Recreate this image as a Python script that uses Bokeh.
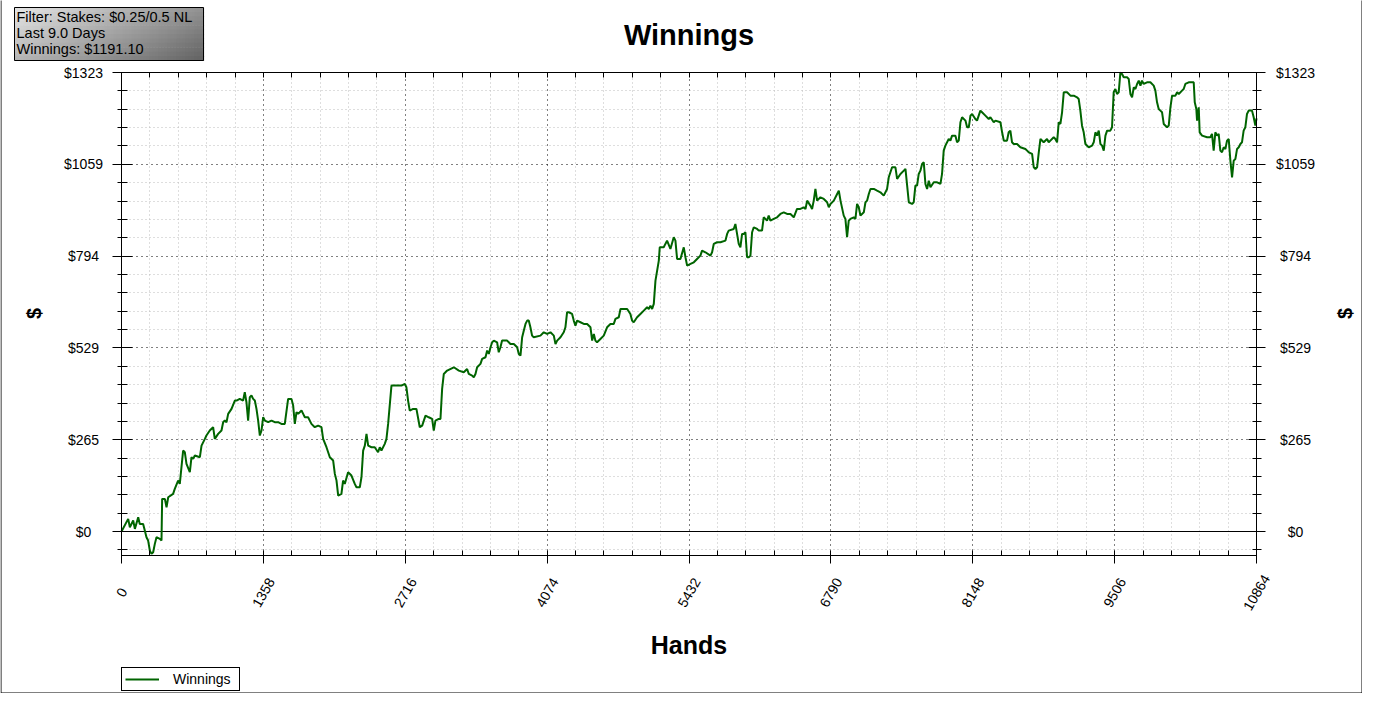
import math
from bokeh.plotting import figure
from bokeh.models import (Range1d, LinearAxis, FixedTicker, Grid, Label,
                          BoxAnnotation, Legend, LegendItem)
from bokeh.embed import file_html
from bokeh.resources import INLINE

# ---------------- data ----------------
hands = [
    0, 64, 80, 112, 128, 160, 175, 207, 223, 239, 255, 271, 287, 303, 319, 335, 367, 383,
    389, 415, 431, 447, 494, 510, 542, 558, 574, 590, 606, 622, 654, 670, 686, 702, 750,
    766, 798, 813, 845, 877, 893, 925, 957, 973, 989, 1005, 1021, 1053, 1085, 1101, 1132,
    1164, 1180, 1196, 1212, 1228, 1244, 1260, 1276, 1292, 1308, 1324, 1340, 1356, 1372,
    1404, 1436, 1467, 1499, 1531, 1563, 1595, 1627, 1643, 1659, 1675, 1691, 1723, 1739,
    1755, 1786, 1818, 1850, 1882, 1914, 1930, 1962, 1994, 2026, 2042, 2058, 2074, 2105,
    2121, 2137, 2169, 2201, 2233, 2249, 2281, 2297, 2313, 2329, 2345, 2361, 2393, 2424,
    2456, 2472, 2488, 2520, 2536, 2552, 2584, 2632, 2680, 2712, 2727, 2743, 2759, 2791,
    2823, 2855,
    2878, 2910, 2941, 2973, 2989, 3005, 3037, 3053, 3069, 3085, 3117, 3181, 3229, 3276,
    3308, 3324, 3356, 3372, 3388, 3404, 3436, 3452, 3484, 3500, 3516, 3532, 3548, 3564,
    3595, 3611, 3627, 3643, 3691, 3723, 3755, 3787, 3803, 3819, 3835, 3851, 3867, 3883,
    3898, 3914, 3930, 3946, 4010, 4042, 4074, 4106, 4138, 4154, 4170, 4202, 4233, 4249,
    4265, 4281, 4313, 4329, 4345, 4361, 4393, 4425, 4457, 4489, 4505, 4521, 4536, 4552,
    4584, 4616, 4648, 4680, 4712, 4728, 4760, 4776, 4808, 4840, 4871, 4887, 4903, 4935,
    4967, 4999, 5031, 5047, 5063, 5079, 5095, 5111, 5127, 5143, 5152, 5190, 5206, 5222,
    5254, 5286, 5302, 5318, 5350, 5382, 5398, 5414, 5446, 5478, 5509, 5541, 5557, 5589,
    5637, 5653, 5669, 5701, 5733, 5781, 5797, 5812, 5860, 5876, 5892, 5908, 5924, 5940,
    5956, 5972, 5988, 6004, 6020, 6036, 6052, 6084, 6100, 6131, 6147, 6179, 6195, 6211,
    6243, 6275, 6307, 6339, 6371, 6403, 6435, 6466, 6498,
    6531, 6547, 6563, 6594, 6610, 6626, 6642, 6658, 6690, 6722, 6754, 6770, 6786, 6818,
    6850, 6866, 6882, 6913, 6929, 6945, 6961, 6977, 7009, 7025, 7041, 7057, 7073, 7105,
    7121, 7137, 7153, 7169, 7201, 7232, 7264, 7296, 7328, 7344, 7376, 7408, 7424, 7456,
    7488, 7504, 7520, 7536, 7567, 7583, 7599, 7615, 7631, 7647, 7663, 7679, 7695, 7711,
    7727, 7743, 7775, 7807, 7839, 7854, 7870, 7886, 7918, 7934, 7950, 7982, 7998, 8014,
    8030, 8046, 8078, 8094, 8110, 8126, 8142, 8173, 8189, 8221, 8237, 8269, 8301, 8317,
    8349, 8365, 8413, 8429, 8445, 8476, 8492, 8508, 8524, 8540, 8572, 8604, 8652, 8668,
    8684, 8716, 8732, 8748, 8764, 8780, 8796, 8827, 8859, 8875, 8891, 8923, 8939, 8955,
    8971, 8987, 9003, 9019, 9051, 9083, 9115, 9146, 9162, 9178, 9194, 9210, 9226, 9258,
    9290, 9306, 9322, 9338, 9354, 9370, 9386, 9402, 9418, 9434, 9465, 9481, 9497, 9513,
    9529, 9545, 9561, 9577, 9593, 9625, 9641, 9657, 9673, 9689, 9705, 9721, 9737, 9753,
    9768, 9784, 9816, 9848, 9880, 9896, 9912, 9928, 9944, 9960, 9976, 10008, 10024, 10040,
    10056, 10088, 10104, 10120, 10151, 10167, 10183, 10215, 10263, 10273, 10288, 10295,
    10311, 10320, 10343, 10391, 10422, 10438, 10454, 10470, 10486, 10502, 10518, 10534,
    10550, 10566, 10582, 10598, 10614, 10630, 10646, 10662, 10678, 10694, 10710, 10725,
    10741, 10757, 10773, 10789, 10821, 10837, 10853, 10864,
]

winnings = [
    0.0, 36.6, 12.5, 31.8, 7.7, 41.4, 22.1, 22.1, 2.9, -16.3, -25.9, -54.7, -64.3, -59.5,
    -35.5, -16.3, -21.1, -25.9,
    94.2, 94.2, 70.2, 99.0, 108.6, 123.0, 147.1, 137.4, 185.5, 233.5, 228.7, 195.1, 171.1,
    214.3, 209.5, 219.1, 214.3,
    247.9, 267.2, 276.8, 291.2, 300.8, 267.2, 281.6, 291.2, 315.2, 320.0, 315.2, 339.2,
    353.6, 377.7, 377.7, 382.5,
    377.7, 401.7, 372.9, 320.0, 387.3, 392.1, 382.5, 377.7, 353.6, 320.0, 276.8, 291.2,
    329.6, 320.0,
    315.2, 320.0, 315.2, 315.2, 310.4, 310.4, 382.5, 382.5, 363.2, 310.4, 344.0, 339.2,
    348.8, 339.2,
    329.6, 329.6, 310.4, 300.8, 305.6, 300.8, 267.2, 243.1, 214.3, 204.7, 166.3, 147.1,
    103.8, 108.6,
    147.1, 137.4, 171.1, 161.5, 137.4, 127.8, 127.8, 156.7, 233.5, 247.9, 281.6, 247.9,
    243.1, 243.1,
    228.7, 243.1, 233.5, 252.8, 267.2, 310.4, 420.9, 420.9, 420.9, 425.7, 416.1, 377.7,
    348.8, 353.6,
    353.6, 300.8,
    305.5, 334.3, 329.5, 324.7, 291.1, 319.9, 324.7, 324.7, 411.2, 454.4, 464.1, 473.6,
    464.1, 459.2,
    468.8, 454.4, 449.6, 444.8, 454.4, 473.6, 483.3, 497.7, 502.5, 521.7, 512.1, 531.3,
    545.7, 550.5,
    545.7, 516.9, 531.3, 550.5, 550.5, 540.9, 540.9, 531.3, 512.1, 507.3, 560.1, 579.3,
    598.6, 608.2,
    608.2, 588.9, 564.9, 560.1, 564.9, 574.5, 569.7, 574.5, 564.9, 540.9, 550.5, 560.1,
    574.5, 588.9,
    632.2, 632.2, 627.4, 608.2, 593.7, 608.2, 603.4, 598.6, 598.6, 588.9, 550.5, 569.7,
    550.5, 545.7,
    555.3, 564.9, 588.9, 598.6, 598.6, 613.0, 617.8, 641.8, 641.8, 641.8, 627.4, 608.2,
    603.4, 617.8,
    627.4, 637.0, 646.6, 641.8, 651.4, 641.8, 656.2, 723.5, 752.3, 781.1, 819.5, 819.5,
    829.2, 838.8,
    814.7, 848.4, 838.8, 785.9, 785.9, 819.5, 790.7, 766.7, 771.5, 776.3, 785.9, 795.5,
    809.9, 805.1,
    795.5, 805.1, 829.2, 834.0, 834.0, 838.8, 858.0, 867.6, 872.4, 886.8, 858.0, 829.2,
    819.5, 858.0,
    858.0, 862.8, 790.7, 790.7, 795.5, 862.8, 877.2, 872.4, 867.6, 867.6, 906.0, 896.4,
    910.8, 896.4,
    901.2, 906.0, 915.6, 920.4, 915.6, 915.6, 906.0, 930.0, 930.0,
    934.8, 930.0, 954.1, 939.7, 930.0, 954.1, 987.7, 954.1, 963.7, 958.9, 949.3, 934.8,
    944.5, 954.1,
    973.3, 982.9, 954.1, 910.8, 901.2, 848.4, 896.4, 901.2, 906.0, 901.2, 944.5, 934.8,
    910.8, 920.4,
    949.3, 954.1, 973.3, 987.7, 987.7, 982.9, 978.1, 968.5, 987.7, 1021.3, 1050.1, 1050.1,
    1016.5, 1030.9,
    1040.5, 1045.3, 997.3, 949.3, 944.5, 949.3, 997.3, 997.3, 1030.9, 1040.5, 1059.7,
    1064.6, 1002.1, 987.7,
    1011.7, 992.5, 1006.9, 1006.9, 1002.1, 1030.9, 1098.2, 1112.6, 1131.8, 1127.0, 1141.4,
    1141.4, 1122.2, 1127.0,
    1179.9, 1194.3, 1184.7, 1165.4, 1165.4, 1199.1, 1203.9, 1189.5, 1184.7, 1213.5, 1208.7,
    1199.1, 1189.5, 1194.3,
    1179.9, 1184.7, 1179.9, 1151.0, 1127.0, 1127.0, 1151.0, 1155.8, 1122.2, 1117.4, 1117.4,
    1107.8, 1103.0, 1098.2,
    1093.4, 1088.6, 1050.1, 1045.3, 1050.1, 1093.4, 1131.8, 1122.2, 1131.8, 1122.2, 1127.0,
    1136.6, 1131.8, 1122.2,
    1179.9, 1175.1, 1208.7, 1266.3, 1266.3, 1256.7, 1256.7, 1251.9, 1247.1, 1213.5, 1170.2,
    1151.0, 1117.4, 1107.8,
    1112.6, 1122.2, 1151.0, 1141.4, 1155.8, 1117.4, 1112.6, 1098.2, 1141.4, 1155.8, 1155.8,
    1165.4, 1266.3, 1275.9,
    1261.5, 1266.3, 1323.0, 1319.2, 1309.6, 1309.6, 1304.8, 1261.5, 1251.9, 1280.7, 1275.9,
    1290.4, 1300.0, 1285.5,
    1300.0, 1290.4, 1295.2, 1295.2, 1285.5, 1271.1, 1237.5, 1218.3, 1213.5, 1208.7, 1175.1,
    1165.4, 1170.2, 1223.1,
    1256.7, 1256.7, 1266.3, 1261.5, 1271.1, 1275.9, 1290.4, 1295.2, 1295.2, 1237.5, 1218.3,
    1184.7,
    1223.1, 1151.0, 1141.4, 1136.6, 1136.6, 1146.2, 1098.2, 1151.0, 1141.4, 1146.2, 1098.2,
    1093.4,
    1107.8, 1103.0, 1127.0, 1131.8, 1069.4, 1021.3, 1069.4, 1074.2, 1103.0, 1107.8, 1117.4,
    1122.2,
    1155.8, 1165.4, 1203.9, 1213.5, 1213.5, 1194.3, 1170.2, 1191.1,
]

series_name = "Winnings"
title_text = "Winnings"
x_axis_title = "Hands"
y_axis_title = "$"
info_lines = ["Filter: Stakes: $0.25/0.5 NL", "Last 9.0 Days", "Winnings: $1191.10"]

x_ticks = [0, 1358, 2716, 4074, 5432, 6790, 8148, 9506, 10864]
x_tick_labels = ["0", "1358", "2716", "4074", "5432", "6790", "8148", "9506", "10864"]
y_ticks = [0, 264.68, 529.36, 794.04, 1058.72, 1323.4]
y_tick_labels = ["$0", "$265", "$529", "$794", "$1059", "$1323"]

X_MIN, X_MAX = 0, 10864
Y_MIN, Y_MAX = -69, 1323.4

# ---------------- layout (canvas pixels) ----------------
W, H = 1362, 693
PL, PR, PT, PB = 121, 1256, 72, 555      # plot area inside the canvas
FONT = "Liberation Sans"
GREEN = "#006400"
N_SUB = 5


def sy(py):
    """canvas y (from top) -> screen y (from bottom)"""
    return H - py


hx = (X_MAX - X_MIN) / (PR - PL)
hy = (Y_MAX - Y_MIN) / (PB - PT)
x_range = Range1d(X_MIN - PL * hx, X_MAX + (W - PR) * hx)
y_range = Range1d(Y_MIN - (H - PB) * hy, Y_MAX + PT * hy)

x_minor = [x_ticks[i] + (x_ticks[i + 1] - x_ticks[i]) * k / N_SUB
           for i in range(len(x_ticks) - 1) for k in range(1, N_SUB)]
y_step = y_ticks[1] - y_ticks[0]
y_minor = [y_ticks[i] + (y_ticks[i + 1] - y_ticks[i]) * k / N_SUB
           for i in range(len(y_ticks) - 1) for k in range(1, N_SUB)]
y_minor = [-y_step / N_SUB] + y_minor

p = figure(width=W, height=H, x_range=x_range, y_range=y_range,
           x_axis_type=None, y_axis_type=None,
           output_backend="svg", toolbar_location=None,
           min_border=0, min_border_left=0, min_border_right=0,
           min_border_top=0, min_border_bottom=0,
           background_fill_color="white", border_fill_color="white",
           outline_line_color=None)
p.title.visible = False

xt_fixed = FixedTicker(ticks=x_ticks, minor_ticks=x_minor)
yt_fixed = FixedTicker(ticks=y_ticks, minor_ticks=y_minor)


def screen_box(left, right, top, bottom, **kw):
    """box given in canvas pixels (top-left origin)"""
    return BoxAnnotation(left=left, right=right, top=sy(top), bottom=sy(bottom),
                         left_units="screen", right_units="screen",
                         top_units="screen", bottom_units="screen", **kw)


# ---------------- grids (limited to the plot area) ----------------
has_cross = "cross_bounds" in Grid.properties()


def make_grid(dim, ticker, color, dash, minor_color=None, minor_dash=None):
    g = Grid(dimension=dim, ticker=ticker, grid_line_color=color, grid_line_dash=dash,
             grid_line_width=1, level="underlay")
    if minor_color is not None:
        g.minor_grid_line_color = minor_color
        g.minor_grid_line_dash = minor_dash
        g.minor_grid_line_width = 1
    if has_cross:
        g.cross_bounds = (Y_MIN, Y_MAX) if dim == 0 else (X_MIN, X_MAX)
    g.bounds = (X_MIN, X_MAX) if dim == 0 else (Y_MIN, Y_MAX)
    p.add_layout(g, "center")
    return g


make_grid(0, xt_fixed, "black", "1 4", "#bdbdbd", "1 3")
make_grid(1, yt_fixed, "black", "1 4", "#bdbdbd", "1 3")
make_grid(1, FixedTicker(ticks=[0]), "black", "solid")   # zero line

if not has_cross:
    for l, r_, t, b in ((0, PL, 0, H), (PR, W, 0, H), (PL, PR, 0, PT), (PL, PR, PB, H)):
        p.add_layout(screen_box(l, r_, t, b, fill_color="white", fill_alpha=1,
                                line_color=None, level="underlay"))

# ---------------- axes (library axes, fixed on the plot-area edges) ----------------


def make_axis(side, loc, ticker, bounds, tin, tout, mtin, mtout):
    ax = LinearAxis(ticker=ticker, fixed_location=loc, bounds=bounds)
    ax.axis_line_color = "black"
    ax.axis_line_width = 1
    ax.major_tick_line_color = "black"
    ax.minor_tick_line_color = "black"
    ax.major_tick_in = tin
    ax.major_tick_out = tout
    ax.minor_tick_in = mtin
    ax.minor_tick_out = mtout
    ax.major_label_text_color = None
    p.add_layout(ax, side)
    return ax


make_axis("below", Y_MIN, xt_fixed, (X_MIN, X_MAX), 5, 8, 5, 0)
make_axis("above", Y_MAX, xt_fixed, (X_MIN, X_MAX), 5, 0, 5, 0)
make_axis("left", X_MIN, yt_fixed, (Y_MIN, Y_MAX), 11, 9, 6, 4)
make_axis("right", X_MAX, yt_fixed, (Y_MIN, Y_MAX), 8, 9, 4, 5)

# ---------------- series ----------------
r = p.line(hands, winnings, line_color=GREEN, line_width=2)

# ---------------- tick labels (centered, like the reference) ----------------
for t, s in zip(y_ticks, y_tick_labels):
    for cx in (83, 1295):
        p.add_layout(Label(x=cx, x_units="screen", y=t, y_units="data", text=s,
                           text_font=FONT, text_font_size="14px", text_color="black",
                           text_align="center", text_baseline="middle"))
for t, s in zip(x_ticks, x_tick_labels):
    p.add_layout(Label(x=t, x_units="data", y=sy(592), y_units="screen", text=s,
                       angle=math.pi / 3, text_font=FONT, text_font_size="14px",
                       text_color="black", text_align="center", text_baseline="middle"))

# ---------------- titles ----------------
p.add_layout(Label(x=688.5, y=sy(34), x_units="screen", y_units="screen", text=title_text,
                   text_font=FONT, text_font_style="bold", text_font_size="29px",
                   text_color="black", text_align="center", text_baseline="middle"))
p.add_layout(Label(x=688.5, y=sy(644.5), x_units="screen", y_units="screen",
                   text=x_axis_title, text_font=FONT, text_font_style="bold",
                   text_font_size="25px", text_color="black",
                   text_align="center", text_baseline="middle"))
for cx in (33, 1344):
    p.add_layout(Label(x=cx, y=sy(313), x_units="screen", y_units="screen", text=y_axis_title,
                       angle=math.pi / 2, text_font=FONT, text_font_style="bold",
                       text_font_size="20px", text_color="black",
                       text_align="center", text_baseline="middle"))

# ---------------- info box with gradient ----------------
BL, BR, BT, BB = 14, 203, 7, 60          # canvas px
NX, NY = 63, 12
cw = (BR - BL) / NX
ch = (BB - BT) / NY
for i in range(NX):
    for j in range(NY):
        u = (i + 0.5) / NX
        v = (j + 0.5) / NY
        g = int(round(230 - 84 * u - 48 * v))
        col = "#%02x%02x%02x" % (g, g, g)
        p.add_layout(screen_box(BL + i * cw, BL + (i + 1) * cw + 0.6,
                                BT + j * ch, BT + (j + 1) * ch + 0.6,
                                fill_color=col, fill_alpha=1, line_color=None))
p.add_layout(screen_box(BL, BR, BT, BB, fill_alpha=0, line_color="black",
                        line_alpha=1, line_width=1))
for k, line in enumerate(info_lines):
    p.add_layout(Label(x=16, y=sy(16.5 + 16 * k), x_units="screen", y_units="screen",
                       text=line, text_font=FONT, text_font_size="14.5px",
                       text_color="black", text_align="left", text_baseline="middle"))

# ---------------- outer border ----------------
p.add_layout(screen_box(0.5, W - 0.5, -20, H - 0.5, fill_alpha=0, line_color="black",
                        line_alpha=1, line_width=1))

# ---------------- legend ----------------
legend = Legend(items=[LegendItem(label=series_name, renderers=[r])],
                location=(PL, sy(691)),
                border_line_color="black", border_line_width=1, border_line_alpha=1,
                background_fill_color="white", background_fill_alpha=1,
                label_text_font=FONT, label_text_font_size="14px", label_text_color="black",
                glyph_width=34, glyph_height=16, label_height=16, label_width=63,
                label_standoff=14, padding=3, margin=0, spacing=0)
p.add_layout(legend, "center")

open("out.html", "w").write(file_html(p, INLINE))
